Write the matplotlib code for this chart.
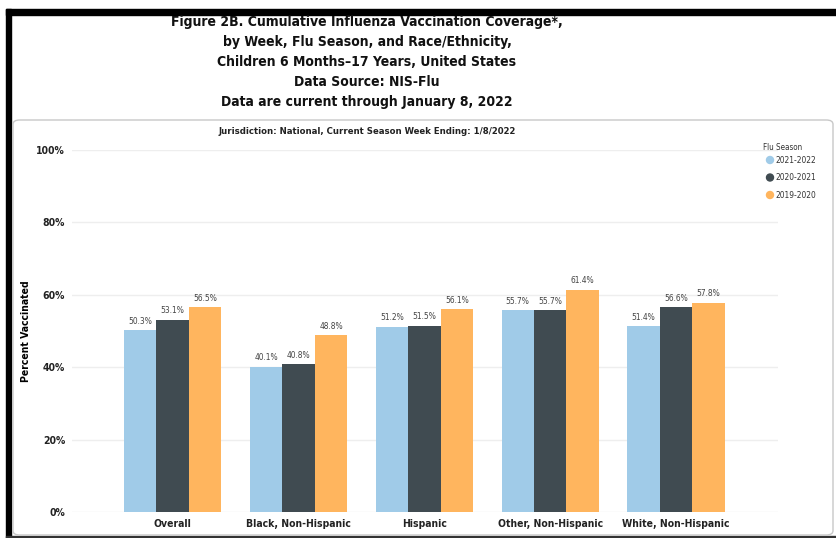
import matplotlib.pyplot as plt
import matplotlib.patches as mpatches
import matplotlib.ticker as mtick
import numpy as np

categories = ['Overall', 'Black, Non-Hispanic', 'Hispanic',
              'Other, Non-Hispanic', 'White, Non-Hispanic']
seasons = ['2021-2022', '2020-2021', '2019-2020']
cov_2122 = [50.3, 40.1, 51.2, 55.7, 51.4]
cov_2021 = [53.1, 40.8, 51.5, 55.7, 56.6]
cov_1920 = [56.5, 48.8, 56.1, 61.4, 57.8]
colors = ['#a0cbe8', '#404b51', '#ffb55e']

W, H = 836, 538
fig = plt.figure(figsize=(W / 100, H / 100), dpi=100)
fam = ['DejaVu Sans']
st = 'condensed'

# screenshot frame
fig.patches.append(mpatches.Rectangle((6 / W, 0), 5 / W, (H - 9) / H,
                   transform=fig.transFigure, color='black', zorder=0))
fig.patches.append(mpatches.Rectangle((6 / W, (H - 15) / H), (W - 6) / W, 6 / H,
                   transform=fig.transFigure, color='black', zorder=0))
fig.patches.append(mpatches.Rectangle((6 / W, 0), (W - 6) / W, 2 / H,
                   transform=fig.transFigure, color='#333333', zorder=0))
# panel box
fig.patches.append(mpatches.FancyBboxPatch((13 / W, 3 / H), (W - 16) / W, (H - 120 - 3) / H,
                   boxstyle='round,pad=0,rounding_size=0.008',
                   transform=fig.transFigure, facecolor='white',
                   edgecolor='#c8c8c8', lw=1, zorder=0))

title = ['Figure 2B. Cumulative Influenza Vaccination Coverage*,',
         'by Week, Flu Season, and Race/Ethnicity,',
         'Children 6 Months\u201317 Years, United States',
         'Data Source: NIS-Flu',
         'Data are current through January 8, 2022']
for i, line in enumerate(title):
    fig.text(367 / W, 1 - (22 + 20 * i) / H, line, ha='center', va='center',
             fontsize=10, fontweight='bold', family=fam, fontstretch=st, color='#111111')

fig.text(367 / W, 1 - 131 / H, 'Jurisdiction: National, Current Season Week Ending: 1/8/2022',
         ha='center', va='center', fontsize=6.8, fontweight='bold', family=fam,
         fontstretch=st, color='#222222')

ax = fig.add_axes([72 / W, 26 / H, (778 - 72) / W, (512 - 150) / H])
ax.set_zorder(3)
ax.patch.set_alpha(0)
x = np.arange(len(categories))
bw = 0.258
for k, (vals, c) in enumerate(zip([cov_2122, cov_2021, cov_1920], colors)):
    pos = x + (k - 1) * bw
    ax.bar(pos, vals, width=bw, color=c, zorder=2)
    for p, v in zip(pos, vals):
        ax.text(p, v + 1.2, f'{v:.1f}%', ha='center', va='bottom',
                fontsize=6, color='#444444', family=fam, fontstretch=st)

ax.set_xlim(-0.8, 4.81)
ax.set_ylim(0, 100)
ax.set_yticks(range(0, 101, 20))
ax.yaxis.set_major_formatter(mtick.PercentFormatter(decimals=0))
ax.grid(axis='y', color='#eeeeee', lw=1, zorder=0)
ax.set_xticks(x)
ax.set_xticklabels(categories, fontweight='bold', family=fam, fontstretch=st, fontsize=7.5)
for lab in ax.get_yticklabels():
    lab.set_fontweight('bold')
    lab.set_family(fam)
    lab.set_fontstretch(st)
    lab.set_fontsize(7.5)
ax.tick_params(length=0, pad=5, colors='#222222')
for s in ax.spines.values():
    s.set_visible(False)
ax.set_ylabel('Percent Vaccinated', fontweight='bold', family=fam, fontstretch=st, fontsize=7.5)
ax.yaxis.set_label_coords(-41 / (778 - 72), 0.5)

# legend
fig.text(763 / W, 1 - 148 / H, 'Flu Season', fontsize=5.8, family=fam, fontstretch=st,
         color='#333333', va='center')
for i, (s, c) in enumerate(zip(seasons, colors)):
    yy = 1 - (160 + 17.5 * i) / H
    fig.patches.append(mpatches.Ellipse((770 / W, yy), 7 / W, 7 / H,
                       transform=fig.transFigure, color=c))
    fig.text(775 / W, yy, s, fontsize=6, family=fam, fontstretch=st,
             color='#333333', va='center')

plt.savefig('out.png', dpi=100)
